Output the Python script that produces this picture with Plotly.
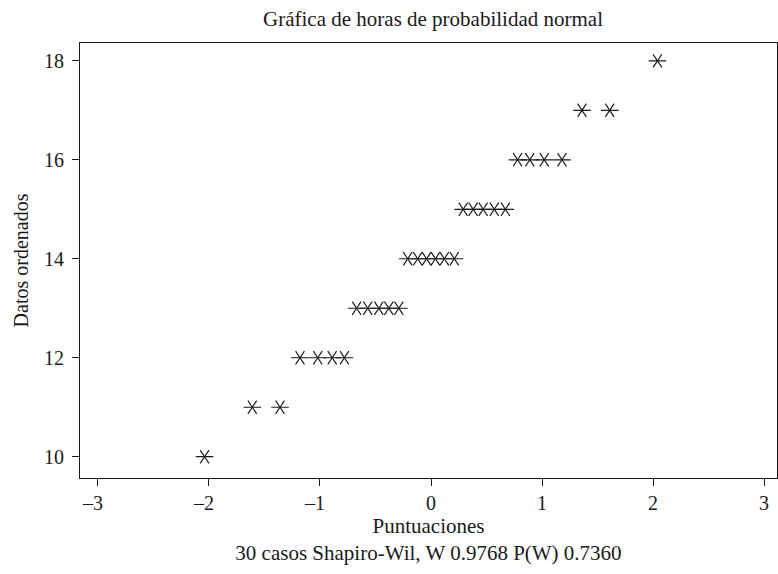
import plotly.graph_objects as go

# Sorted observations (hours) and their normal scores
horas = [10, 11, 11, 12, 12, 12, 12, 13, 13, 13, 13, 13,
         14, 14, 14, 14, 14, 14, 15, 15, 15, 15, 15, 16, 16, 16, 16, 17, 17, 18]
puntuaciones = [-2.04, -1.61, -1.36, -1.18, -1.02, -0.89, -0.78, -0.67, -0.57, -0.47,
                -0.38, -0.29, -0.21, -0.12, -0.04, 0.04, 0.12, 0.21, 0.29, 0.38,
                0.47, 0.57, 0.67, 0.78, 0.89, 1.02, 1.18, 1.36, 1.61, 2.04]

x_ticks = [-3, -2, -1, 0, 1, 2, 3]
# negative labels carry a trailing en space so the digit sits over its tick
x_tick_text = ["\u20133\u2002", "\u20132\u2002", "\u20131\u2002", "0", "1", "2", "3"]
y_ticks = [10, 12, 14, 16, 18]

ink = "#1a1a1a"
font = "Liberation Serif, Times New Roman, serif"

fig = go.Figure()
# six-spoke asterisk: two mirrored "Y" glyphs sharing a horizontal stroke
for sym in ["y-left-open", "y-right-open"]:
    fig.add_trace(go.Scatter(
        x=puntuaciones, y=horas, mode="markers",
        marker=dict(symbol=sym, size=11,
                    color=ink, line=dict(color=ink, width=1.2)),
        showlegend=False,
        hoverinfo="skip" if sym == "y-right-open" else None,
    ))

fig.update_layout(
    width=778, height=574,
    margin=dict(l=80, r=1, t=43, b=96),
    paper_bgcolor="white", plot_bgcolor="white",
    font=dict(family=font, color=ink, size=20),
    title=dict(text="Gráfica de horas de probabilidad normal",
               x=0.5566, xanchor="center", y=0.968, yanchor="middle",
               font=dict(size=21, family=font, color=ink)),
    xaxis=dict(range=[-3.162, 3.117], tickvals=x_ticks, ticktext=x_tick_text,
               ticks="outside", ticklen=7, tickcolor=ink, tickwidth=1,
               showgrid=False, zeroline=False, showline=True, mirror=True,
               linecolor=ink, linewidth=1.2,
               tickfont=dict(size=20),
               title=dict(text="Puntuaciones<br>30 casos Shapiro-Wil, W 0.9768 P(W) 0.7360",
                          font=dict(size=21), standoff=3)),
    yaxis=dict(range=[9.57, 18.36], tickvals=y_ticks,
               ticks="outside", ticklen=7, tickcolor=ink, tickwidth=1,
               ticklabelstandoff=4,
               showgrid=False, zeroline=False, showline=True, mirror=True,
               linecolor=ink, linewidth=1.2,
               tickfont=dict(size=20),
               title=dict(text="Datos ordenados", font=dict(size=20), standoff=9)),
)

fig.write_html("out.html")
